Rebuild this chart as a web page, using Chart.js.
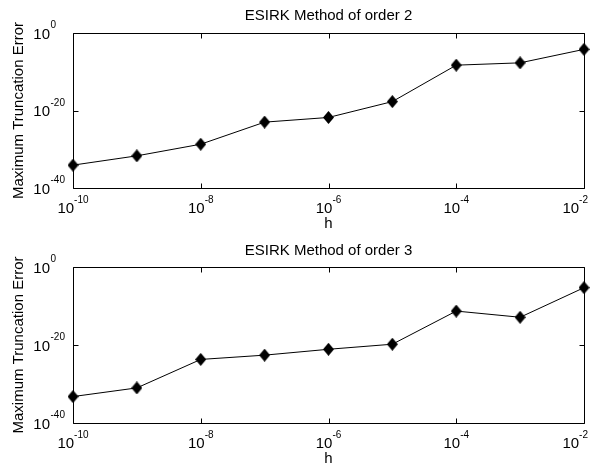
<!DOCTYPE html>
<html>
<head>
<meta charset="utf-8">
<script src="https://cdn.jsdelivr.net/npm/chart.js@4/dist/chart.umd.min.js"></script>
<style>
  html, body { margin: 0; padding: 0; background: #fff; }
  canvas { display: block; }
</style>
</head>
<body>
<canvas id="order2" width="597" height="235"></canvas>
<canvas id="order3" width="597" height="236"></canvas>
<script>
// step sizes h (x axis)
const stepSizes = [1e-10, 1e-9, 1e-8, 1e-7, 1e-6, 1e-5, 1e-4, 1e-3, 1e-2];
// maximum truncation error
const errOrder2 = [8e-35, 2e-32, 2e-29, 1e-23, 1.6e-22, 2e-18, 5e-9, 2e-8, 6e-5];
const errOrder3 = [6e-34, 1e-31, 2e-24, 2.5e-23, 8e-22, 1.6e-20, 5e-12, 1.3e-13, 5e-6];

// tick labels are 10^exp, base and exponent kept apart
const xTicks = [1e-10, 1e-8, 1e-6, 1e-4, 1e-2];
const xTickExps = ['-10', '-8', '-6', '-4', '-2'];
const yTicks = [1e-40, 1e-20, 1];
const yTickExps = ['-40', '-20', '0'];

const titles = ['ESIRK Method of order 2', 'ESIRK Method of order 3'];
const yLabel = 'Maximum Truncation Error';
const xLabel = 'h';

const FONT = '"Liberation Sans", Arial, sans-serif';
Chart.defaults.font.family = FONT;
Chart.defaults.color = '#000';

// matlab style filled diamond, a bit taller than wide
const diamond = document.createElement('canvas');
diamond.width = 11;
diamond.height = 13;
(function () {
    const c = diamond.getContext('2d');
    c.fillStyle = '#000';
    c.beginPath();
    c.moveTo(5.5, 0);
    c.lineTo(11, 6.5);
    c.lineTo(5.5, 13);
    c.lineTo(0, 6.5);
    c.closePath();
    c.fill();
})();

// box, inward ticks and 10^n labels like an old matlab axes
const matlabAxes = {
    id: 'matlabAxes',
    beforeDatasetsDraw(chart) {
        const {ctx, chartArea: a, scales} = chart;
        const L = Math.round(a.left) + 0.5, R = Math.round(a.right) + 0.5;
        const T = Math.round(a.top) + 0.5, B = Math.round(a.bottom) + 0.5;
        const len = 5;
        ctx.save();
        ctx.strokeStyle = '#000';
        ctx.lineWidth = 1;
        ctx.beginPath();
        ctx.rect(L, T, R - L, B - T);
        xTicks.forEach(v => {
            const x = Math.round(scales.x.getPixelForValue(v)) + 0.5;
            ctx.moveTo(x, B); ctx.lineTo(x, B - len);
            ctx.moveTo(x, T); ctx.lineTo(x, T + len);
        });
        yTicks.forEach(v => {
            const y = Math.round(scales.y.getPixelForValue(v)) + 0.5;
            ctx.moveTo(L, y); ctx.lineTo(L + len, y);
            ctx.moveTo(R, y); ctx.lineTo(R - len, y);
        });
        ctx.stroke();
        ctx.restore();
    },
    afterDraw(chart) {
        const {ctx, chartArea: a, scales} = chart;
        const base = '15px ' + FONT, sup = '10px ' + FONT;
        ctx.save();
        ctx.fillStyle = '#000';
        ctx.textBaseline = 'alphabetic';
        ctx.textAlign = 'left';

        xTicks.forEach((v, i) => {
            const x = scales.x.getPixelForValue(v);
            ctx.font = base;
            const w1 = ctx.measureText('10').width;
            ctx.font = sup;
            const w2 = ctx.measureText(xTickExps[i]).width;
            let start = x - (w1 + w2) / 2;
            start = Math.min(start, chart.width - 9 - w1 - w2);
            ctx.font = base;
            ctx.fillText('10', start, a.bottom + 25);
            ctx.font = sup;
            ctx.fillText(xTickExps[i], start + w1, a.bottom + 15);
        });

        yTicks.forEach((v, i) => {
            const y = scales.y.getPixelForValue(v);
            ctx.font = base;
            ctx.textAlign = 'right';
            ctx.fillText('10', 50, y + 5.5);
            ctx.font = sup;
            ctx.textAlign = 'left';
            ctx.fillText(yTickExps[i], 50.5, y - 5);
        });
        ctx.restore();
    }
};

function makeChart(id, title, errors, plotTop) {
    const canvas = document.getElementById(id);
    const xAxisHeight = canvas.height - 188;
    return new Chart(canvas, {
        type: 'line',
        data: {
            datasets: [{
                data: stepSizes.map((h, i) => ({x: h, y: errors[i]})),
                borderColor: '#000',
                backgroundColor: '#000',
                borderWidth: 1,
                pointStyle: diamond,
                pointRadius: 6,
                clip: false
            }]
        },
        options: {
            responsive: false,
            animation: false,
            layout: { padding: { left: 0, right: 13, top: 0, bottom: 0 } },
            plugins: {
                legend: { display: false },
                tooltip: { enabled: false },
                title: {
                    display: true,
                    text: title,
                    fullSize: false,
                    color: '#000',
                    font: { size: 15, weight: 'normal' },
                    padding: { top: 6.5, bottom: plotTop - 18 - 6.5 }
                }
            },
            scales: {
                x: {
                    type: 'logarithmic',
                    min: 1e-10,
                    max: 1e-2,
                    grid: { display: false },
                    border: { display: false },
                    ticks: { display: false },
                    title: {
                        display: true,
                        text: xLabel,
                        font: { size: 15, weight: 'normal' },
                        padding: { top: 0, bottom: canvas.height - 9 - 224 }
                    },
                    afterBuildTicks: s => { s.ticks = xTicks.map(v => ({value: v})); },
                    afterFit: s => { s.height = xAxisHeight; }
                },
                y: {
                    type: 'logarithmic',
                    min: 1e-40,
                    max: 1,
                    grid: { display: false },
                    border: { display: false },
                    ticks: { display: false },
                    title: {
                        display: true,
                        text: yLabel,
                        font: { size: 15, weight: 'normal' },
                        padding: { top: 10, bottom: 0 }
                    },
                    afterBuildTicks: s => { s.ticks = yTicks.map(v => ({value: v})); },
                    afterFit: s => { s.width = 73; }
                }
            }
        },
        plugins: [matlabAxes]
    });
}

makeChart('order2', titles[0], errOrder2, 33);
makeChart('order3', titles[1], errOrder3, 32);
</script>
</body>
</html>
